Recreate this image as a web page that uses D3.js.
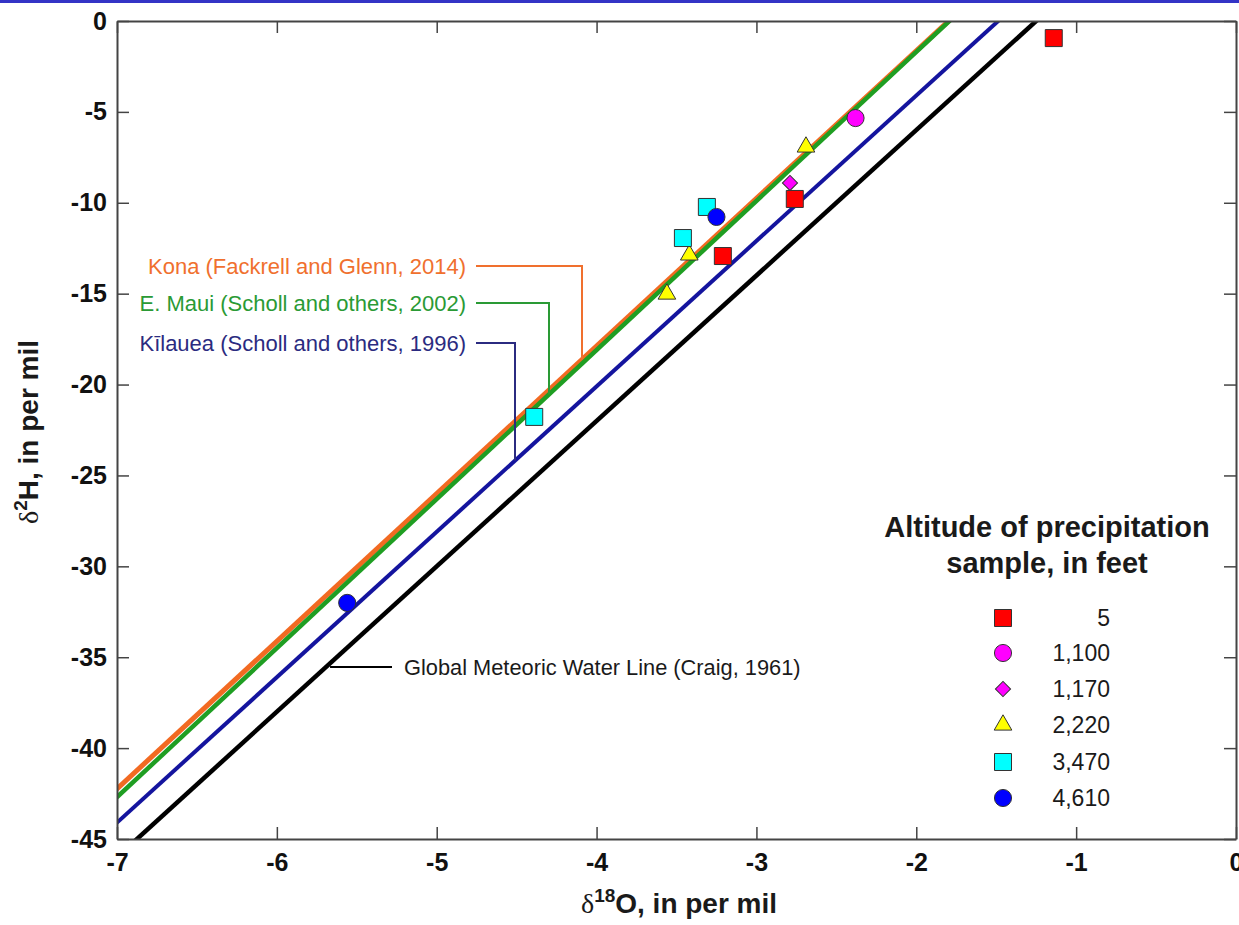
<!DOCTYPE html>
<html><head><meta charset="utf-8">
<script src="https://cdn.jsdelivr.net/npm/d3@7"></script>
<style>
body{margin:0;background:#fff;}
text{font-family:"Liberation Sans",Arial,Helvetica,sans-serif;}
</style>
</head><body>
<svg id="c" width="1239" height="925"></svg>
<script>
// ---- data ----
const xTicks = [-7, -6, -5, -4, -3, -2, -1, 0];
const yTicks = [0, -5, -10, -15, -20, -25, -30, -35, -40, -45];

const lineNames = ["Global Meteoric Water Line (Craig, 1961)", "Kīlauea (Scholl and others, 1996)", "Kona (Fackrell and Glenn, 2014)", "E. Maui (Scholl and others, 2002)"];
const lineSlopes = [8.0, 8.0, 8.12, 8.2];
const lineIntercepts = [10.0, 11.9, 14.6, 14.7];

const altitudes = ["5", "1,100", "1,170", "2,220", "3,470", "4,610"];
const o18 = [
  [-1.14, -2.76, -3.21],
  [-2.38],
  [-2.79],
  [-2.69, -3.42, -3.56],
  [-3.31, -3.46, -4.39],
  [-3.25, -5.56]
];
const h2 = [
  [-0.94, -9.79, -12.93],
  [-5.34],
  [-8.91],
  [-6.93, -12.87, -15.02],
  [-10.23, -11.94, -21.78],
  [-10.78, -32.01]
];

// ---- styles ----
const lineColors = ["#000000", "#14149e", "#f26a22", "#1f9e22"];
const lineWidths = [4.5, 4, 5, 4.5];
const textColors = ["#1a1a1a", "#2b2b80", "#f0702e", "#2a9a35"];
const markerFill = ["#ff0000", "#ff00ff", "#ff00ff", "#ffff00", "#00ffff", "#0000ff"];
const markerType = ["square", "circle", "diamond", "triangle", "square", "circle"];

const svg = d3.select("#c");
svg.append("rect").attr("x", 0).attr("y", 0).attr("width", 1239).attr("height", 3).attr("fill", "#3434c6");

const L = 117, R = 1236, T = 21, B = 839;
const x = d3.scaleLinear().domain([-7, 0]).range([L, R]);
const y = d3.scaleLinear().domain([-45, 0]).range([B, T]);

svg.append("clipPath").attr("id", "clip").append("rect")
  .attr("x", L).attr("y", T).attr("width", R - L).attr("height", B - T);

// lines
const lg = svg.append("g").attr("clip-path", "url(#clip)");
const lineGen = d3.line().x(d => x(d[0])).y(d => y(d[1]));
lineSlopes.forEach((m, i) => {
  const b = lineIntercepts[i];
  const pts = [-7.2, 0.2].map(v => [v, m * v + b]);
  lg.append("path").attr("d", lineGen(pts)).attr("fill", "none")
    .attr("stroke", lineColors[i]).attr("stroke-width", lineWidths[i]);
});

// axes
function styleAxis(g) {
  g.selectAll(".domain").attr("stroke", "#444").attr("stroke-width", 2);
  g.selectAll(".tick line").attr("stroke", "#444").attr("stroke-width", 1.5);
  g.selectAll("text").attr("font-size", 25).attr("font-weight", "bold").attr("fill", "#111")
    .attr("font-family", "'Liberation Sans', Arial, sans-serif");
}
svg.append("g").attr("transform", `translate(0,${B})`)
  .call(d3.axisBottom(x).tickValues(xTicks).tickFormat(d3.format("d")).tickSize(-12).tickSizeOuter(0).tickPadding(14))
  .call(styleAxis);
svg.append("g").attr("transform", `translate(0,${T})`)
  .call(d3.axisTop(x).tickValues(xTicks).tickFormat("").tickSize(-12).tickSizeOuter(0))
  .call(styleAxis);
svg.append("g").attr("transform", `translate(${L},0)`)
  .call(d3.axisLeft(y).tickValues(yTicks).tickFormat(d3.format("d")).tickSize(-12).tickSizeOuter(0).tickPadding(10))
  .call(styleAxis);
svg.append("g").attr("transform", `translate(${R},0)`)
  .call(d3.axisRight(y).tickValues(yTicks).tickFormat("").tickSize(-12).tickSizeOuter(0))
  .call(styleAxis);
svg.selectAll(".tick text").text(function(){ return this.textContent.replace("\u2212", "-"); });

// annotations
const ann = svg.append("g");
const annTextRight = 466;
const annRows = [null, 343, 266, 303]; // y centre per line (pixel layout)
const annLeaderX = [null, 515, 582, 549];
[2, 3, 1].forEach(i => {
  const yc = annRows[i];
  ann.append("text").attr("x", annTextRight).attr("y", yc + 8).attr("text-anchor", "end")
    .attr("font-size", 22).attr("fill", textColors[i]).text(lineNames[i]);
  const xd = x.invert(annLeaderX[i]);
  const yEnd = y(lineSlopes[i] * xd + lineIntercepts[i]);
  ann.append("path").attr("d", `M${annTextRight + 10},${yc}H${annLeaderX[i]}V${yEnd}`)
    .attr("fill", "none").attr("stroke", textColors[i]).attr("stroke-width", 2);
});
{
  const yc = 667;
  const yd = y.invert(yc);
  const xd = (yd - lineIntercepts[0]) / lineSlopes[0];
  ann.append("path").attr("d", `M${x(xd) + 4},${yc}H392`).attr("stroke", "#000").attr("stroke-width", 2);
  ann.append("text").attr("x", 404).attr("y", yc + 8).attr("font-size", 21.8).attr("fill", textColors[0]).text(lineNames[0]);
}

// markers
function symPath(t) {
  if (t === "square") return d3.symbol(d3.symbolSquare, 289)();
  if (t === "circle") return d3.symbol(d3.symbolCircle, 230)();
  if (t === "diamond") return d3.symbol(d3.symbolSquare, 115)();
  return d3.symbol(d3.symbolTriangle, 135)();
}
const mg = svg.append("g");
altitudes.forEach((a, i) => {
  o18[i].forEach((xv, j) => {
    mg.append("path").attr("d", symPath(markerType[i]))
      .attr("transform", `translate(${x(xv)},${y(h2[i][j])})` + (markerType[i] === "diamond" ? " rotate(45)" : ""))
      .attr("fill", markerFill[i]).attr("stroke", "#333").attr("stroke-width", 1);
  });
});

// legend
const leg = svg.append("g");
leg.append("text").attr("x", 1047).attr("y", 537).attr("text-anchor", "middle")
  .attr("font-size", 29).attr("font-weight", "bold").attr("fill", "#1a1a1a").text("Altitude of precipitation");
leg.append("text").attr("x", 1047).attr("y", 573).attr("text-anchor", "middle")
  .attr("font-size", 29).attr("font-weight", "bold").attr("fill", "#1a1a1a").text("sample, in feet");
const rowY = [618, 653, 689, 725, 762, 798];
altitudes.forEach((a, i) => {
  leg.append("path").attr("d", symPath(markerType[i]))
    .attr("transform", `translate(1003,${rowY[i]})` + (markerType[i] === "diamond" ? " rotate(45)" : ""))
    .attr("fill", markerFill[i]).attr("stroke", "#333").attr("stroke-width", 1);
  leg.append("text").attr("x", 1110).attr("y", rowY[i] + 8).attr("text-anchor", "end")
    .attr("font-size", 23).attr("fill", "#1a1a1a").text(a);
});

// axis titles
const xt = svg.append("text").attr("x", 679).attr("y", 913).attr("text-anchor", "middle")
  .attr("font-size", 28).attr("font-weight", "bold").attr("fill", "#1a1a1a");
xt.append("tspan").attr("font-family", "'Liberation Serif', 'Times New Roman', serif").attr("font-weight", "normal").text("δ");
xt.append("tspan").attr("font-size", 19).attr("dy", -11).text("18");
xt.append("tspan").attr("dy", 11).text("O, in per mil");

const yt = svg.append("text").attr("transform", "translate(38,432) rotate(-90)").attr("text-anchor", "middle")
  .attr("font-size", 28).attr("font-weight", "bold").attr("fill", "#1a1a1a");
yt.append("tspan").attr("font-family", "'Liberation Serif', 'Times New Roman', serif").attr("font-weight", "normal").text("δ");
yt.append("tspan").attr("font-size", 19).attr("dy", -11).text("2");
yt.append("tspan").attr("dy", 11).text("H, in per mil");
</script>
</body></html>
